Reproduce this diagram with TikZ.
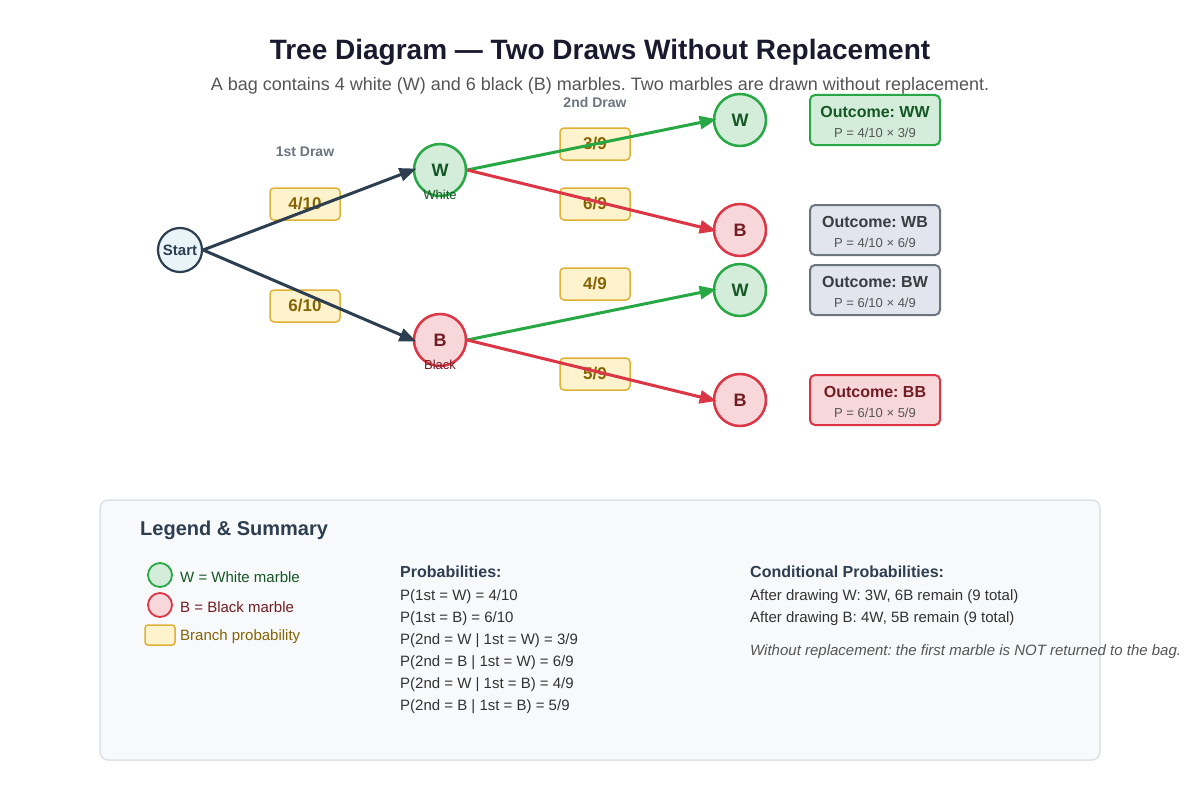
\documentclass[tikz,border=0pt]{standalone}
\usepackage{fontspec}
\setmainfont{Liberation Sans}
\usetikzlibrary{arrows.meta}
\frenchspacing
\definecolor{navy}{HTML}{1A1A2E}
\definecolor{subg}{HTML}{555555}
\definecolor{drawg}{HTML}{6C757D}
\definecolor{startfill}{HTML}{E8F4F8}
\definecolor{dark}{HTML}{2C3E50}
\definecolor{gstroke}{HTML}{28A745}
\definecolor{gfill}{HTML}{D4EDDA}
\definecolor{gtext}{HTML}{155724}
\definecolor{rstroke}{HTML}{DC3545}
\definecolor{rfill}{HTML}{F8D7DA}
\definecolor{rtext}{HTML}{721C24}
\definecolor{yfill}{HTML}{FFF3CD}
\definecolor{ystroke}{HTML}{DDB236}
\definecolor{ytext}{HTML}{856404}
\definecolor{nfill}{HTML}{E2E4EE}
\definecolor{nstroke}{HTML}{6C757D}
\definecolor{ntext}{HTML}{383D41}
\definecolor{legfill}{HTML}{F8F9FA}
\definecolor{legstroke}{HTML}{DEE2E6}
\definecolor{body}{HTML}{333333}
\newcommand{\fs}[1]{\fontsize{#1}{#1}\selectfont}
\tikzset{
  x=1pt,y=-1pt,
  marble/.style={circle,minimum size=52pt,inner sep=0pt,line width=2.5pt,font=\fs{18}\bfseries},
  wm/.style={marble,draw=gstroke,fill=gfill,text=gtext},
  bm/.style={marble,draw=rstroke,fill=rfill,text=rtext},
  probbox/.style={rectangle,rounded corners=4pt,draw=ystroke,fill=yfill,line width=1.5pt,minimum width=70pt,minimum height=32pt,inner sep=0pt,text=ytext,font=\fs{17}\bfseries},
  outbox/.style={rectangle,rounded corners=5pt,line width=2pt,minimum width=130pt,minimum height=50pt,inner sep=0pt},
  edge/.style={line width=3pt,shorten >=-4pt,-{Triangle[length=17pt,width=13pt]}},
  txt/.style={inner sep=0pt,yshift=-2pt},
  lt/.style={txt,anchor=west,font=\fs{15}},
}
\begin{document}
\begin{tikzpicture}
\useasboundingbox[fill=white] (0,0) rectangle (1200,800);
% titles
\node[txt,text=navy,font=\fs{28}\bfseries] (title) at (600,50) {Tree Diagram — Two Draws Without Replacement};
\node[txt,text=subg,font=\fs{18}] (sub) at (600,84) {A bag contains 4 white (W) and 6 black (B) marbles. Two marbles are drawn without replacement.};
\node[txt,text=drawg,font=\fs{14}\bfseries] (d1) at (305,150) {1st Draw};
\node[txt,text=drawg,font=\fs{14}\bfseries] (d2) at (595,100) {2nd Draw};
% probability boxes
\node[probbox] (p1) at (305,204) {4/10};
\node[probbox] (p2) at (305,306) {6/10};
\node[probbox] (p3) at (595,144) {3/9};
\node[probbox] (p4) at (595,204) {6/9};
\node[probbox] (p5) at (595,284) {4/9};
\node[probbox] (p6) at (595,374) {5/9};
% marbles
\node[circle,minimum size=44pt,inner sep=0pt,line width=2.2pt,draw=dark,fill=startfill,text=dark,font=\fs{15}\bfseries] (start) at (180,250) {Start};
\node[wm] (w1) at (440,170) {W};
\node[bm] (b1) at (440,340) {B};
\node[txt,text=gtext,font=\fs{13}] (wl) at (440,193) {White};
\node[txt,text=rtext,font=\fs{13}] (bl) at (440,363) {Black};
\node[wm] (ww) at (740,120) {W};
\node[bm] (wb) at (740,230) {B};
\node[wm] (bw) at (740,290) {W};
\node[bm] (bb) at (740,400) {B};
% edges
\draw[edge,draw=dark,fill=dark] (start.east) -- (w1.west);
\draw[edge,draw=dark,fill=dark] (start.east) -- (b1.west);
\draw[edge,draw=gstroke,fill=gstroke] (w1.east) -- (ww.west);
\draw[edge,draw=rstroke,fill=rstroke] (w1.east) -- (wb.west);
\draw[edge,draw=gstroke,fill=gstroke] (b1.east) -- (bw.west);
\draw[edge,draw=rstroke,fill=rstroke] (b1.east) -- (bb.west);
% outcome boxes
\node[outbox,draw=gstroke,fill=gfill] (oww) at (875,120) {};
\node[txt,text=gtext,font=\fs{16}\bfseries] at (875,110) {Outcome: WW};
\node[txt,text=subg,font=\fs{13}] at (875,131) {P = 4/10 × 3/9};
\node[outbox,draw=nstroke,fill=nfill] (owb) at (875,230) {};
\node[txt,text=ntext,font=\fs{16}\bfseries] at (875,220) {Outcome: WB};
\node[txt,text=subg,font=\fs{13}] at (875,241) {P = 4/10 × 6/9};
\node[outbox,draw=nstroke,fill=nfill] (obw) at (875,290) {};
\node[txt,text=ntext,font=\fs{16}\bfseries] at (875,280) {Outcome: BW};
\node[txt,text=subg,font=\fs{13}] at (875,301) {P = 6/10 × 4/9};
\node[outbox,draw=rstroke,fill=rfill] (obb) at (875,400) {};
\node[txt,text=rtext,font=\fs{16}\bfseries] at (875,390) {Outcome: BB};
\node[txt,text=subg,font=\fs{13}] at (875,411) {P = 6/10 × 5/9};
% legend panel
\draw[rounded corners=8pt,fill=legfill,draw=legstroke,line width=1.5pt] (100,500) rectangle (1100,760);
\node[lt,text=dark,font=\fs{20}\bfseries] (lg) at (140,528) {Legend \& Summary};
\node[circle,minimum size=24pt,inner sep=0pt,line width=1.8pt,draw=gstroke,fill=gfill] (lw) at (160,575) {};
\node[lt,text=gtext] at (180,575) {W = White marble};
\node[circle,minimum size=24pt,inner sep=0pt,line width=1.8pt,draw=rstroke,fill=rfill] (lb) at (160,605) {};
\node[lt,text=rtext] at (180,605) {B = Black marble};
\draw[rounded corners=3pt,draw=ystroke,fill=yfill,line width=1.5pt] (145,625) rectangle (175,645);
\node[lt,text=ytext] at (180,635) {Branch probability};
\node[lt,text=dark,font=\fs{16}\bfseries] at (400,570) {Probabilities:};
\node[lt,text=body] at (400,595) {P(1st = W) = 4/10};
\node[lt,text=body] at (400,617) {P(1st = B) = 6/10};
\node[lt,text=body] at (400,639) {P(2nd = W | 1st = W) = 3/9};
\node[lt,text=body] at (400,661) {P(2nd = B | 1st = W) = 6/9};
\node[lt,text=body] at (400,683) {P(2nd = W | 1st = B) = 4/9};
\node[lt,text=body] at (400,705) {P(2nd = B | 1st = B) = 5/9};
\node[lt,text=dark,font=\fs{16}\bfseries] at (750,570) {Conditional Probabilities:};
\node[lt,text=body] at (750,595) {After drawing W: 3W, 6B remain (9 total)};
\node[lt,text=body] at (750,617) {After drawing B: 4W, 5B remain (9 total)};
\node[lt,text=subg,font=\fs{15}\itshape] at (750,650) {Without replacement: the first marble is NOT returned to the bag.};
\end{tikzpicture}
\end{document}
